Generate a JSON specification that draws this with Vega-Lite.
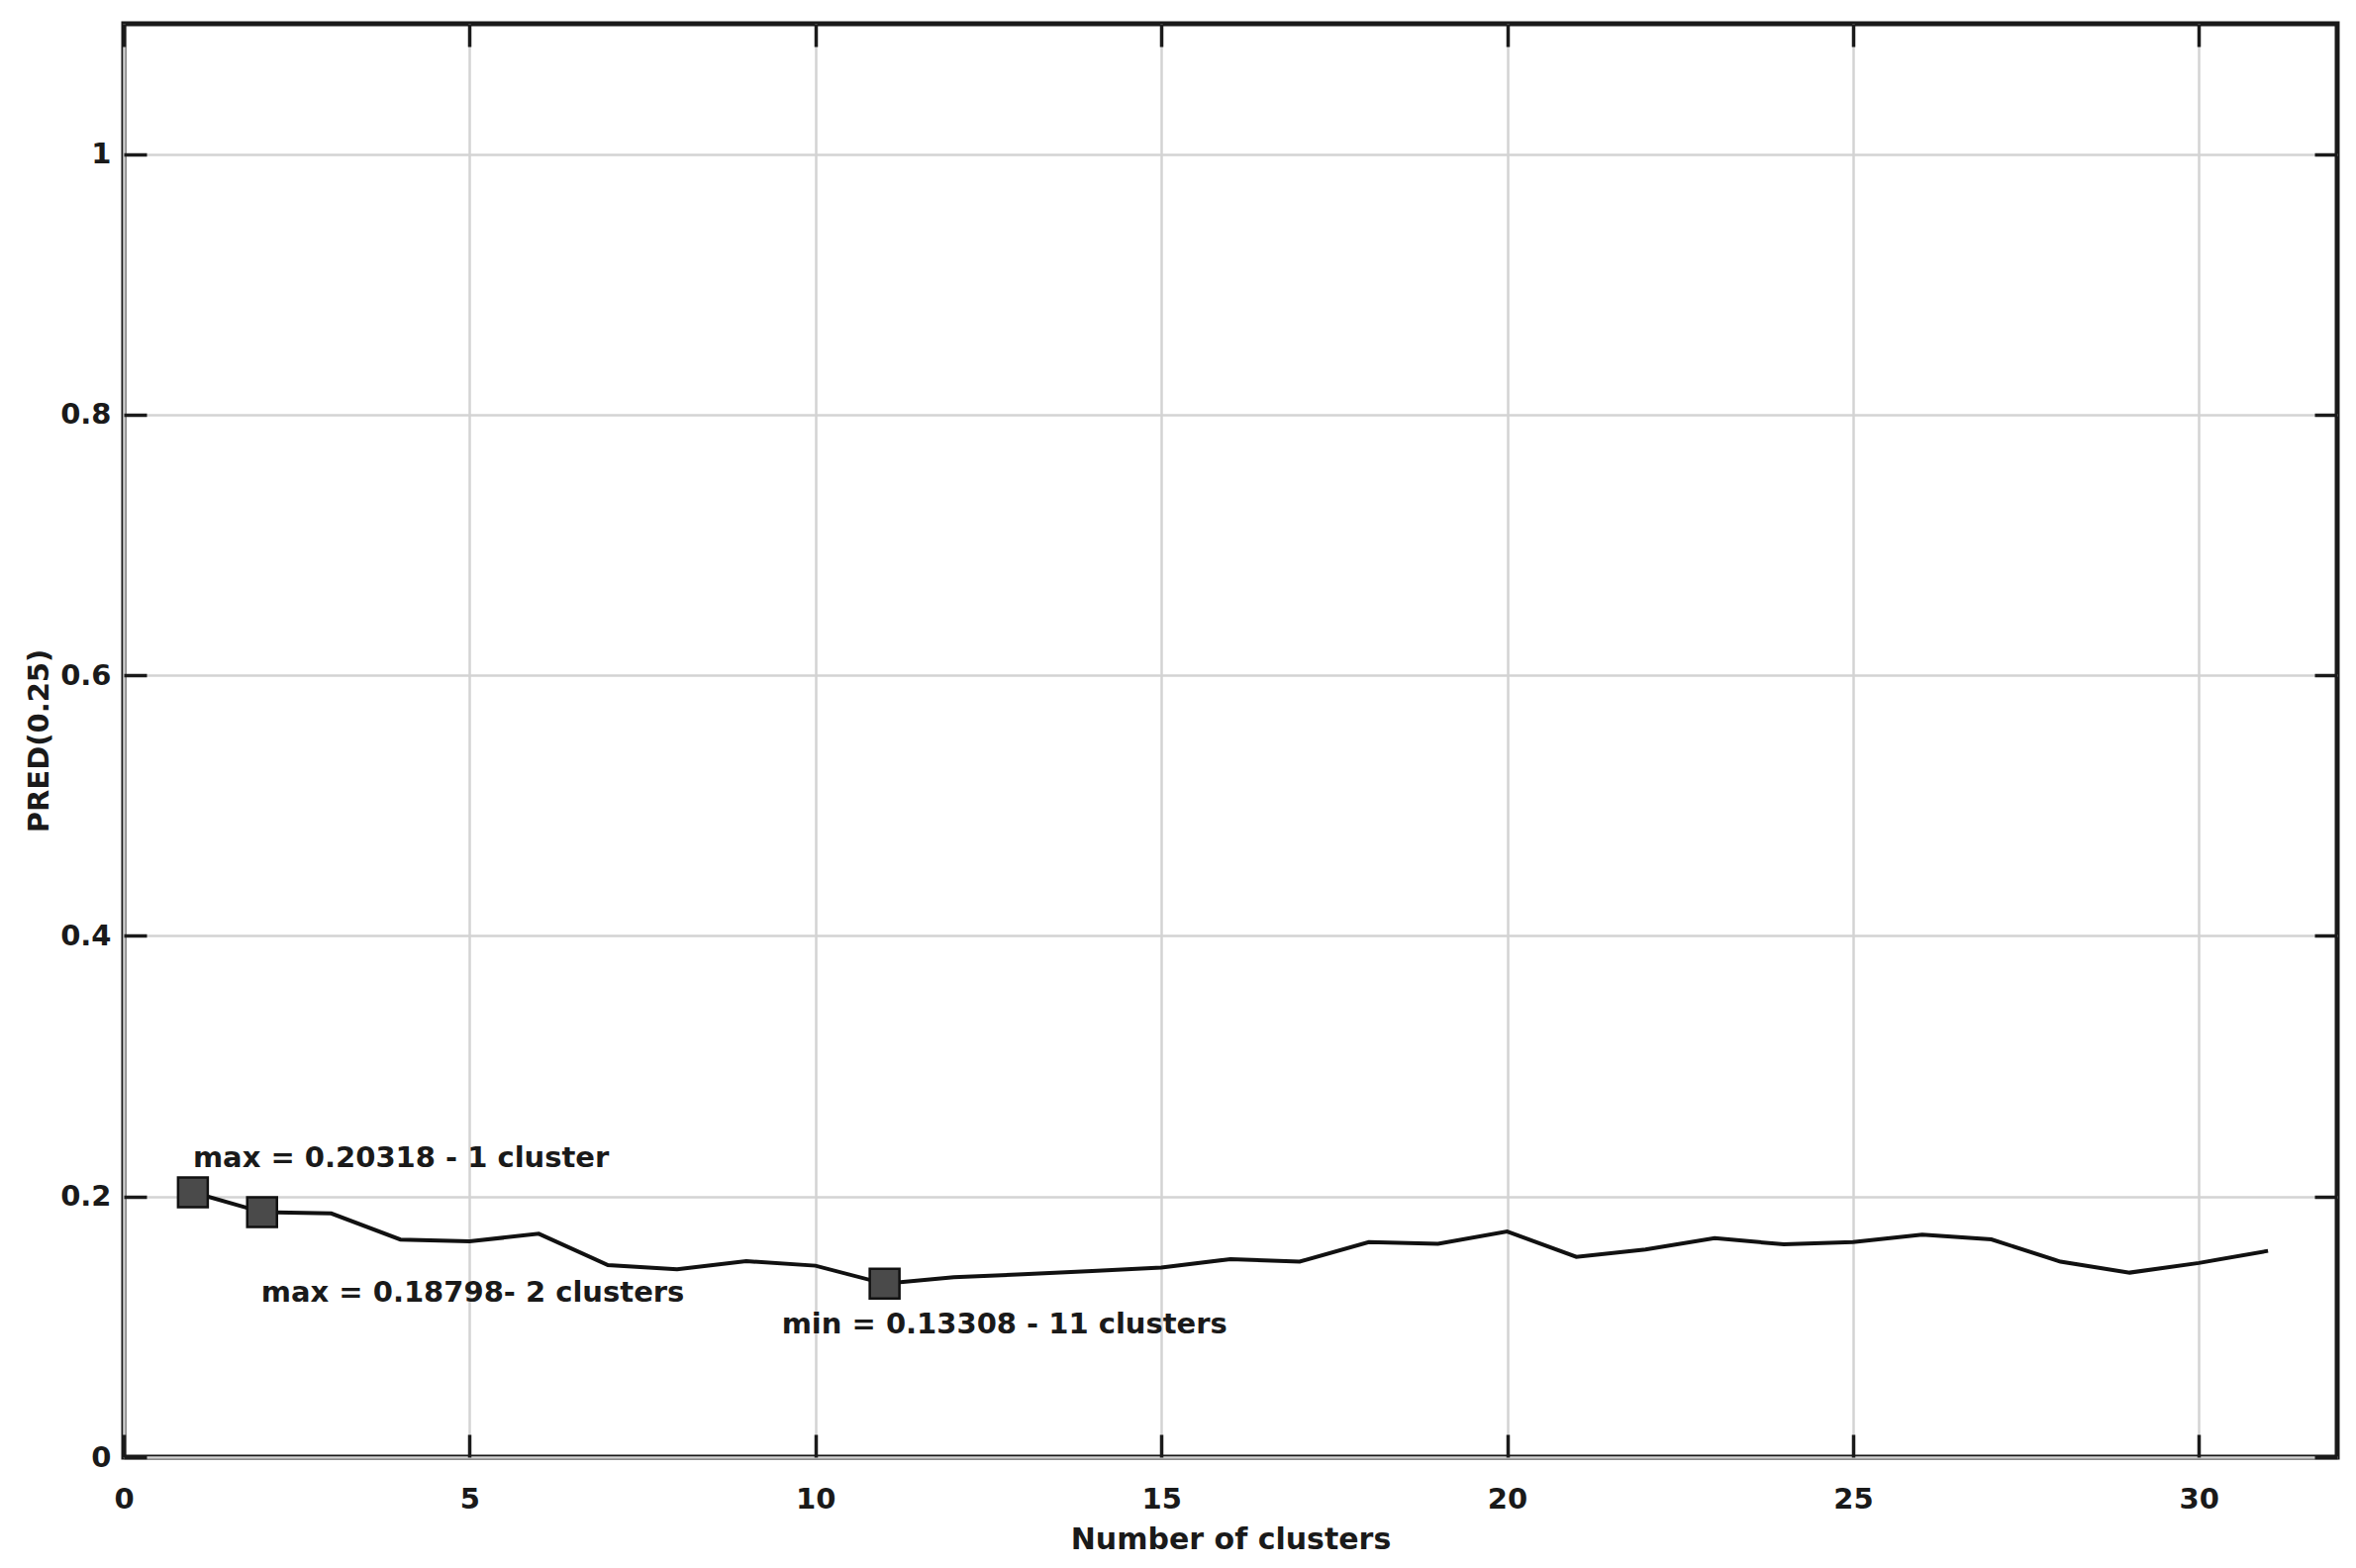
{
  "$schema": "https://vega.github.io/schema/vega-lite/v6.json",
  "width": 2236,
  "height": 1448,
  "autosize": {"type": "none"},
  "padding": {"left": 125, "top": 24, "right": 19, "bottom": 112},
  "background": "white",
  "config": {
    "view": {"stroke": "#1a1a1a", "strokeWidth": 5},
    "font": "DejaVu Sans",
    "axis": {
      "domain": false,
      "tickSize": -23,
      "tickWidth": 3.5,
      "tickColor": "#1a1a1a",
      "labelFontSize": 29,
      "labelFontWeight": "bold",
      "labelColor": "#1a1a1a",
      "labelFlush": false,
      "labelOverlap": false,
      "titleFontSize": 30,
      "titleFontWeight": "bold",
      "titleColor": "#1a1a1a",
      "gridColor": "#d3d3d3",
      "gridWidth": 2.5
    }
  },
  "datasets": {
    "pred": [
      {"clusters": 1, "pred": 0.20318},
      {"clusters": 2, "pred": 0.18798},
      {"clusters": 3, "pred": 0.187},
      {"clusters": 4, "pred": 0.167},
      {"clusters": 5, "pred": 0.1656},
      {"clusters": 6, "pred": 0.1714},
      {"clusters": 7, "pred": 0.1474},
      {"clusters": 8, "pred": 0.1441},
      {"clusters": 9, "pred": 0.1504},
      {"clusters": 10, "pred": 0.1469},
      {"clusters": 11, "pred": 0.13308},
      {"clusters": 12, "pred": 0.138},
      {"clusters": 13, "pred": 0.1403},
      {"clusters": 14, "pred": 0.1429},
      {"clusters": 15, "pred": 0.1454},
      {"clusters": 16, "pred": 0.152},
      {"clusters": 17, "pred": 0.150},
      {"clusters": 18, "pred": 0.165},
      {"clusters": 19, "pred": 0.1638},
      {"clusters": 20, "pred": 0.1732},
      {"clusters": 21, "pred": 0.1537},
      {"clusters": 22, "pred": 0.1593},
      {"clusters": 23, "pred": 0.168},
      {"clusters": 24, "pred": 0.1633},
      {"clusters": 25, "pred": 0.165},
      {"clusters": 26, "pred": 0.1707},
      {"clusters": 27, "pred": 0.1671},
      {"clusters": 28, "pred": 0.150},
      {"clusters": 29, "pred": 0.1416},
      {"clusters": 30, "pred": 0.149},
      {"clusters": 31, "pred": 0.1583}
    ],
    "notes": [
      {"clusters": 1, "pred": 0.20318, "label": "max = 0.20318 - 1 cluster", "which": "a"},
      {"clusters": 2, "pred": 0.18798, "label": "max = 0.18798- 2 clusters", "which": "b"},
      {"clusters": 11, "pred": 0.13308, "label": "min = 0.13308 - 11 clusters", "which": "c"}
    ]
  },
  "layer": [
    {
      "data": {"name": "pred"},
      "mark": {"type": "line", "color": "#111111", "strokeWidth": 4},
      "encoding": {
        "x": {
          "field": "clusters", "type": "quantitative",
          "scale": {"domain": [0, 32], "nice": false, "zero": false},
          "axis": {
            "values": [0, 5, 10, 15, 20, 25, 30], "format": "~g",
            "title": "Number of clusters", "grid": true,
            "labelPadding": 51,
            "titleY": 92, "titleBaseline": "alphabetic"
          }
        },
        "y": {
          "field": "pred", "type": "quantitative",
          "scale": {"domain": [0, 1.1], "nice": false},
          "axis": {
            "values": [0, 0.2, 0.4, 0.6, 0.8, 1], "format": "~g",
            "title": "PRED(0.25)", "grid": true,
            "labelPadding": 36,
            "titleFontSize": 29,
            "titleX": -77, "titleBaseline": "alphabetic"
          }
        }
      }
    },
    {
      "data": {"name": "notes"},
      "mark": {"type": "point", "shape": "square", "filled": true, "size": 900, "fill": "#4a4a4a", "stroke": "#111111", "strokeWidth": 2.5, "opacity": 1},
      "encoding": {
        "x": {
          "field": "clusters", "type": "quantitative",
          "axis": {"orient": "top", "values": [0, 5, 10, 15, 20, 25, 30], "labels": false, "grid": false, "title": null}
        },
        "y": {
          "field": "pred", "type": "quantitative",
          "axis": {"orient": "right", "values": [0, 0.2, 0.4, 0.6, 0.8, 1], "labels": false, "grid": false, "title": null}
        }
      }
    },
    {
      "data": {"name": "notes"},
      "transform": [{"filter": "datum.which === 'a'"}],
      "mark": {"type": "text", "align": "left", "baseline": "alphabetic", "dx": 0, "dy": -26, "fontSize": 29, "fontWeight": "bold", "color": "#1a1a1a"},
      "encoding": {
        "x": {"field": "clusters", "type": "quantitative", "axis": null},
        "y": {"field": "pred", "type": "quantitative", "axis": null},
        "text": {"field": "label"}
      }
    },
    {
      "data": {"name": "notes"},
      "transform": [{"filter": "datum.which === 'b'"}],
      "mark": {"type": "text", "align": "left", "baseline": "alphabetic", "dx": -1, "dy": 90, "fontSize": 29, "fontWeight": "bold", "color": "#1a1a1a"},
      "encoding": {
        "x": {"field": "clusters", "type": "quantitative", "axis": null},
        "y": {"field": "pred", "type": "quantitative", "axis": null},
        "text": {"field": "label"}
      }
    },
    {
      "data": {"name": "notes"},
      "transform": [{"filter": "datum.which === 'c'"}],
      "mark": {"type": "text", "align": "left", "baseline": "alphabetic", "dx": -104, "dy": 50, "fontSize": 29, "fontWeight": "bold", "color": "#1a1a1a"},
      "encoding": {
        "x": {"field": "clusters", "type": "quantitative", "axis": null},
        "y": {"field": "pred", "type": "quantitative", "axis": null},
        "text": {"field": "label"}
      }
    }
  ],
  "resolve": {"axis": {"x": "independent", "y": "independent"}}
}
